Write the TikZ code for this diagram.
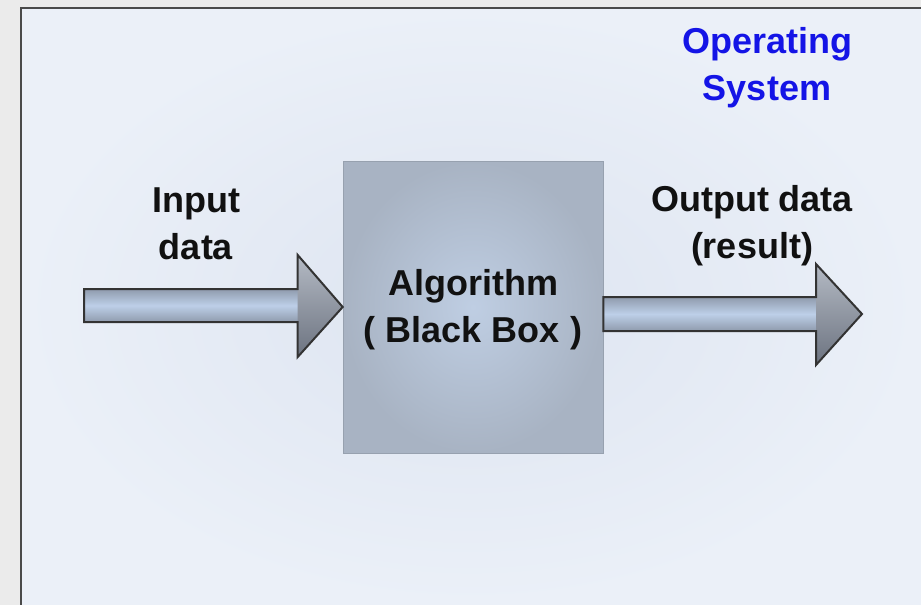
\documentclass[tikz,border=0pt]{standalone}
\usepackage{fontspec}
\setmainfont{Liberation Sans}
\usetikzlibrary{calc}
\definecolor{outerbg}{HTML}{EBEBEB}
\definecolor{panelin}{HTML}{DDE4F0}
\definecolor{panelout}{HTML}{EBF0F8}
\definecolor{panelborder}{HTML}{4A4A4A}
\definecolor{boxin}{HTML}{BFCEE3}
\definecolor{boxout}{HTML}{A8B3C3}
\definecolor{bodyedge}{HTML}{8F9BAD}
\definecolor{bodymid}{HTML}{BDCFE8}
\definecolor{headtop}{HTML}{B4BAC4}
\definecolor{headbot}{HTML}{6C7380}
\definecolor{osblue}{HTML}{1414E6}
\definecolor{txt}{HTML}{111111}
\tikzset{
  lbl/.style={font=\fontsize{36}{47}\selectfont\bfseries, align=center, text=txt, inner sep=0pt},
  blackbox/.style={inner color=boxin, outer color=boxout, draw=boxout!90!black, line width=0.6pt, minimum width=260pt, minimum height=292pt, inner sep=0pt},
  arrowbody/.style={top color=bodyedge, bottom color=bodyedge, middle color=bodymid},
  arrowhead/.style={top color=headtop, bottom color=headbot},
  arrowline/.style={draw=black!80, line width=2pt, line join=miter}
}
\begin{document}
\begin{tikzpicture}[x=1pt,y=-1pt]
\useasboundingbox (0,0) rectangle (921,605);
\fill[outerbg] (0,0) rectangle (921,605);
\shade[inner color=panelin, outer color=panelout] (21,8) rectangle (921,605);
\draw[panelborder, line width=2pt] (21,606) -- (21,8) -- (922,8);

\node[blackbox] (algo) at (473,307) {};
\node[lbl] (algoLbl) at (473,310) {Algorithm\\( Black Box )};

% input arrow
\coordinate (inTip) at (algo.west);
\coordinate (inTail) at (84,307);
\shade[arrowbody] ($(inTail)+(0,-18)$) rectangle ($(inTip)+(-45,15)$);
\shade[arrowhead] ($(inTip)+(-45,-52)$) -- (inTip) -- ($(inTip)+(-45,50)$) -- cycle;
\draw[arrowline] ($(inTail)+(0,-18)$) -- ($(inTip)+(-45,-18)$) -- ($(inTip)+(-45,-52)$) -- (inTip) -- ($(inTip)+(-45,50)$) -- ($(inTip)+(-45,15)$) -- ($(inTail)+(0,15)$) -- cycle;

% output arrow
\coordinate (outTip) at (862,314);
\coordinate (outTail) at ($(algo.east |- outTip)$);
\shade[arrowbody] ($(outTail)+(0,-17)$) rectangle ($(outTip)+(-46,17)$);
\shade[arrowhead] ($(outTip)+(-46,-50)$) -- (outTip) -- ($(outTip)+(-46,51)$) -- cycle;
\draw[arrowline] ($(outTail)+(0,-17)$) -- ($(outTip)+(-46,-17)$) -- ($(outTip)+(-46,-50)$) -- (outTip) -- ($(outTip)+(-46,51)$) -- ($(outTip)+(-46,17)$) -- ($(outTail)+(0,17)$) -- cycle;

\node[lbl] (inLbl) at (196,224) {Input\\data};
\node[lbl] (outLbl) at (752,226) {Output data\\(result)};
\node[lbl, text=osblue] (os) at (767,68) {Operating\\System};
\end{tikzpicture}
\end{document}
